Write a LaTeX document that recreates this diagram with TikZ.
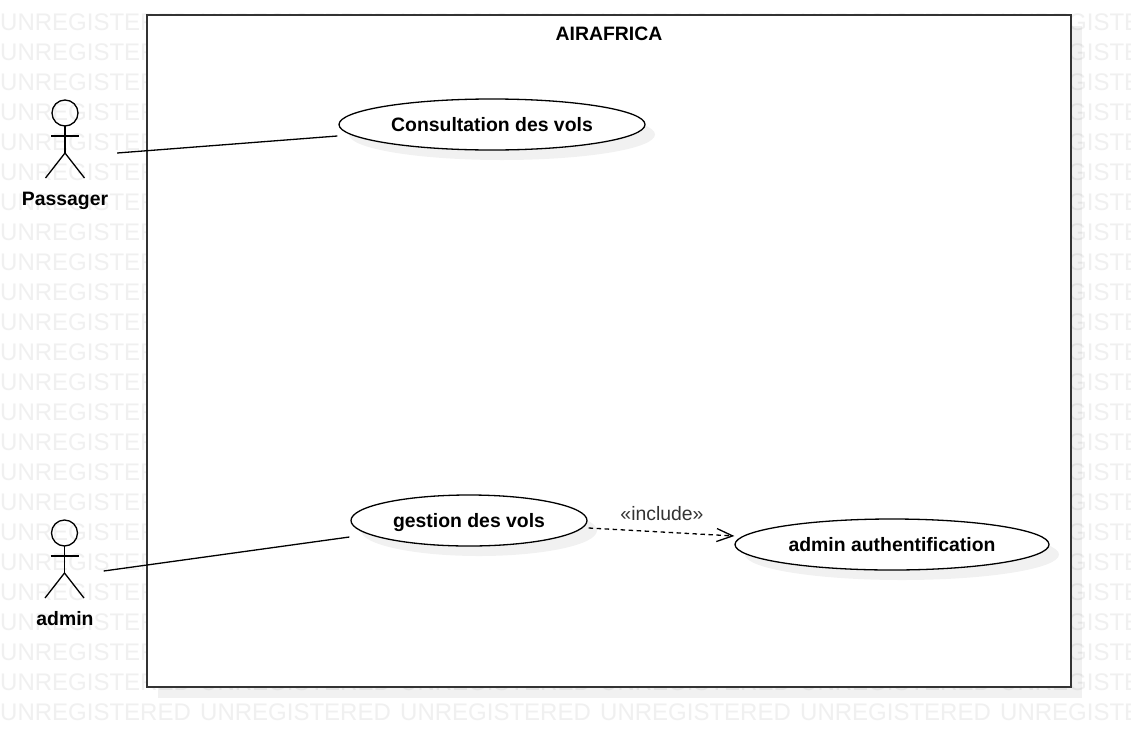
\documentclass[tikz,border=0pt]{standalone}
\usepackage{fontspec}
\setmainfont{Liberation Sans}
\usetikzlibrary{shapes.geometric,arrows.meta}
\definecolor{wm}{HTML}{F0F0F0}
\definecolor{frame}{HTML}{333333}
\tikzset{
  x=1pt,y=-1pt,
  wmtext/.style={anchor=base west,inner sep=0,text=wm,font=\fontsize{24}{24}\selectfont},
  shadowfill/.style={fill=black,fill opacity=0.055,draw=none},
  usecase/.style={ellipse,draw=black,fill=white,line width=1.3pt,inner sep=0},
  boldlabel/.style={anchor=base,inner sep=0,text=black,font=\fontsize{19.4}{20}\selectfont\bfseries},
  actorbox/.style={inner sep=0,minimum width=38pt,minimum height=78pt},
  limb/.style={draw=black,line width=1.3pt},
  assoc/.style={draw=black,line width=1.3pt},
  includes/.style={draw=black,line width=1.3pt,dash pattern=on 4.5pt off 3.5pt,
    -{Straight Barb[length=16pt,width=13pt,line width=1.3pt]}},
  actorfig/.pic={
    \draw[limb] (0,-26) circle[radius=13];
    \draw[limb] (0,-13) -- (0,14);
    \draw[limb] (-14,-3) -- (14,-3);
    \draw[limb] (-19.5,39) -- (0,14) -- (19.5,39);
  }
}
\begin{document}
\begin{tikzpicture}
\useasboundingbox (0,0) rectangle (1131,747);
\clip (0,0) rectangle (1131,747);
\fill[white] (0,0) rectangle (1131,747);
% watermark
\foreach \r in {0,...,23}{
  \foreach \c in {0,...,5}{
    \node[wmtext] (wm-\r-\c) at ({\c*200},{30+\r*30}) {UNREGISTERED};
  }
}
% system boundary
\fill[shadowfill] (158,26) rectangle (1082,698);
\node[draw=frame,fill=white,line width=2pt,inner sep=0,minimum width=924pt,minimum height=672pt] (sys) at (609,351) {};
\node[boldlabel] (title) at (609,40) {AIRAFRICA};
% use cases
\fill[shadowfill] (502,134.5) ellipse[x radius=153,y radius=25.5];
\fill[shadowfill] (479,530.5) ellipse[x radius=118,y radius=25.5];
\fill[shadowfill] (902,554.5) ellipse[x radius=157,y radius=25.5];
\node[usecase,minimum width=306pt,minimum height=51pt] (uc1) at (492,124.5) {};
\node[usecase,minimum width=236pt,minimum height=51pt] (uc2) at (469,520.5) {};
\node[usecase,minimum width=314pt,minimum height=51pt] (uc3) at (892,544.5) {};
\node[boldlabel] (uc1t) at (492,131) {Consultation des vols};
\node[boldlabel] (uc2t) at (469,527) {gestion des vols};
\node[boldlabel] (uc3t) at (892,551) {admin authentification};
% actors
\node[actorbox] (pax) at (65,139) {};
\pic at (pax.center) {actorfig};
\node[boldlabel] (paxt) at (65,205) {Passager};
\node[actorbox] (adm) at (64.5,559) {};
\pic at (adm.center) {actorfig};
\node[boldlabel] (admt) at (65,625) {admin};
% connectors
\draw[assoc] ([xshift=33pt,yshift=-14pt]pax.center-|pax.east) -- ([xshift=-1pt,yshift=-11.5pt]uc1.west);
\draw[assoc] ([xshift=20pt,yshift=-12pt]adm.center-|adm.east) -- ([xshift=-1pt,yshift=-16.5pt]uc2.west);
\draw[includes] ([xshift=1pt,yshift=-7.5pt]uc2.east) -- ([yshift=8.5pt]uc3.west);
\node[anchor=base,inner sep=0,text=frame,font=\fontsize{19.4}{20}\selectfont] (inc) at (662,520.5) {«include»};
\end{tikzpicture}
\end{document}
